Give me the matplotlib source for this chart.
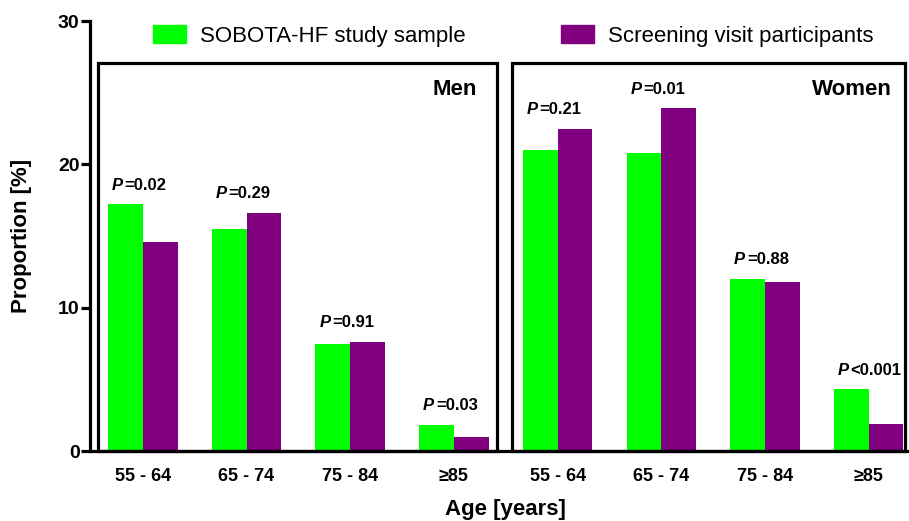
import matplotlib
matplotlib.use("Agg")
import matplotlib.pyplot as plt
import numpy as np
from matplotlib.patches import Rectangle, Patch

plt.rcParams["font.family"] = ["Liberation Sans", "DejaVu Sans"]

# data
age_groups = ["55 - 64", "65 - 74", "75 - 84", "\u226585"]
sexes = ["Men", "Women"]
sobota = [17.2, 15.5, 7.5, 1.8, 21.0, 20.8, 12.0, 4.3]
screening = [14.6, 16.6, 7.6, 1.0, 22.5, 23.9, 11.8, 1.9]
p_labels = ["=0.02", "=0.29", "=0.91", "=0.03", "=0.21", "=0.01", "=0.88", "<0.001"]
series_names = ["SOBOTA-HF study sample", "Screening visit participants"]

green = "#00ff00"
purple = "#800080"

fig = plt.figure(figsize=(9.09, 5.21), dpi=100)
ax = fig.add_axes([90 / 909, 1 - 451 / 521, 818 / 909, 430 / 521])

x = np.arange(len(sobota))
w = 0.335
ax.bar(x - w / 2, sobota, w, color=green, edgecolor="none")
ax.bar(x + w / 2, screening, w, color=purple, edgecolor="none")

# P-value annotations above each pair
for xi, a, b, p in zip(x, sobota, screening, p_labels):
    top = max(a, b) + 1.35
    ax.text(xi - 0.19, top, "P", fontsize=12, fontweight="bold", style="italic",
            ha="right", va="center")
    ax.text(xi - 0.175, top, p, fontsize=12, fontweight="bold", ha="left", va="center")

# boxes around the Men / Women panels
lw = 2.3
ax.add_patch(Rectangle((-0.435, 0), 3.85, 27.1, fill=False, lw=lw, ec="black", clip_on=False))
ax.add_patch(Rectangle((3.56, 0), 3.79, 27.1, fill=False, lw=lw, ec="black", clip_on=False))
ax.text(3.22, 25.2, sexes[0], fontsize=16, fontweight="bold", ha="right", va="center")
ax.text(7.22, 25.2, sexes[1], fontsize=16, fontweight="bold", ha="right", va="center")

ax.set_xlim(-0.51, 7.38)
ax.set_ylim(0, 30)
ax.set_yticks([0, 10, 20, 30])
ax.set_xticks(x)
ax.set_xticklabels(age_groups * 2)
for lab in ax.get_xticklabels():
    lab.set_fontweight("bold")
    lab.set_fontsize(13)
for lab in ax.get_yticklabels():
    lab.set_fontweight("bold")
    lab.set_fontsize(14)
ax.tick_params(axis="x", length=0, pad=12)
ax.tick_params(axis="y", length=6.5, width=lw, pad=1)

for s in ["top", "right"]:
    ax.spines[s].set_visible(False)
for s in ["left", "bottom"]:
    ax.spines[s].set_linewidth(lw)

ax.set_ylabel("Proportion [%]", fontsize=16, fontweight="bold")
ax.yaxis.set_label_coords(-(90 - 22) / 818, 0.5)
ax.set_xlabel("Age [years]", fontsize=16, fontweight="bold")
ax.xaxis.set_label_coords((505 - 90) / 818, -(509 - 451) / 430)
ax.xaxis.label.set_va("center")
ax.yaxis.label.set_va("center")

handles = [Patch(color=green), Patch(color=purple)]
fig.legend(handles, series_names, loc="center left", bbox_to_anchor=(153 / 909, 1 - 36 / 521),
           ncol=2, frameon=False, fontsize=16, borderpad=0, borderaxespad=0,
           handlelength=1.5, handleheight=0.85, handletextpad=0.6, columnspacing=4.3)

fig.savefig("out.png", dpi=100)
